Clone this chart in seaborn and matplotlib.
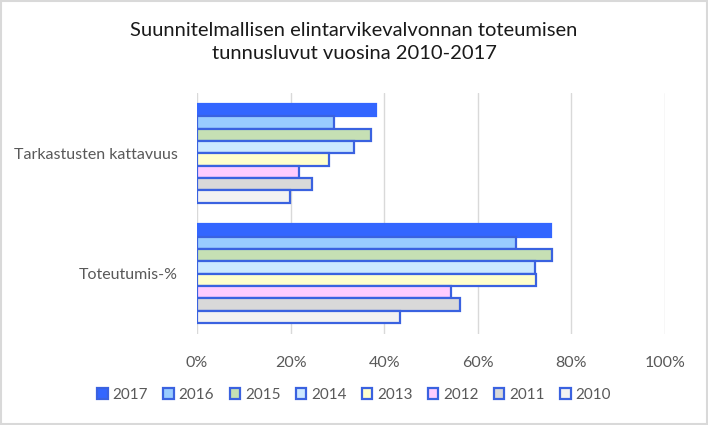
import matplotlib
matplotlib.use("Agg")
import matplotlib.pyplot as plt
from matplotlib.ticker import PercentFormatter
import pandas as pd
import seaborn as sns

# ── Data ───────────────────────────────────────────────────────────────────────
categories = ["Tarkastusten kattavuus", "Toteutumis-%"]
years      = ["2017", "2016", "2015", "2014", "2013", "2012", "2011", "2010"]

kattavuus  = [0.382, 0.293, 0.372, 0.335, 0.281, 0.219, 0.246, 0.199]
toteutumis = [0.756, 0.681, 0.758, 0.722, 0.724, 0.542, 0.562, 0.434]

fills = ["#3366FF", "#99CCFF", "#C6E0B4", "#CCE8FF",
         "#FFFFCC", "#FFCCFF", "#D9D9D9", "#F2F2F2"]
EDGE  = "#3A62E0"
GREY  = "#595959"

rows = []
for yr, a, b in zip(years, kattavuus, toteutumis):
    rows.append({"category": categories[0], "year": yr, "value": a})
    rows.append({"category": categories[1], "year": yr, "value": b})
df = pd.DataFrame(rows)

# ── Plot ───────────────────────────────────────────────────────────────────────
sns.set_style("white")
plt.rcParams["font.family"] = ["Lato", "DejaVu Sans"]

fig = plt.figure(figsize=(7.08, 4.25), dpi=100)
ax = fig.add_axes([197 / 708, 1 - 334 / 425, (665 - 197) / 708, (334 - 93) / 425])

sns.barplot(data=df, x="value", y="category", hue="year",
            order=categories, hue_order=years, palette=fills, saturation=1,
            orient="h", width=0.82, edgecolor=EDGE, linewidth=1.6,
            ax=ax)

# 2017 bar has no visible outline
for patch in ax.containers[0]:
    patch.set_edgecolor(fills[0])

ax.set_xlim(0, 1.0)
ax.set_xticks([0, 0.2, 0.4, 0.6, 0.8, 1.0])
ax.xaxis.set_major_formatter(PercentFormatter(1.0, decimals=0))
ax.grid(axis="x", color="#D9D9D9", linewidth=1)
ax.set_axisbelow(True)
ax.set_xlabel("")
ax.set_ylabel("")
for s in ax.spines.values():
    s.set_visible(False)
ax.tick_params(axis="x", length=0, pad=16, labelsize=11.5, labelcolor=GREY)
ax.tick_params(axis="y", length=0, pad=14, labelsize=11.5, labelcolor=GREY)

fig.text(0.5, 1 - 42 / 425,
         "Suunnitelmallisen elintarvikevalvonnan toteumisen\ntunnusluvut vuosina 2010-2017",
         ha="center", va="center", fontsize=14.5, color="#1A1A1A", linespacing=1.4)

handles, labels = ax.get_legend_handles_labels()
ax.get_legend().remove()
leg = fig.legend(handles, labels, loc="center", bbox_to_anchor=(0.5, 1 - 395 / 425),
                 ncol=8, frameon=False, fontsize=11, handlelength=0.7,
                 handleheight=0.7, handletextpad=0.3, columnspacing=1.0)
for t in leg.get_texts():
    t.set_color(GREY)

# chart border
fig.patches.append(plt.Rectangle((0.002, 0.003), 0.996, 0.994, transform=fig.transFigure,
                                 fill=False, edgecolor="#D9D9D9", linewidth=1.5))

fig.savefig("out.png", dpi=100)
plt.close(fig)
